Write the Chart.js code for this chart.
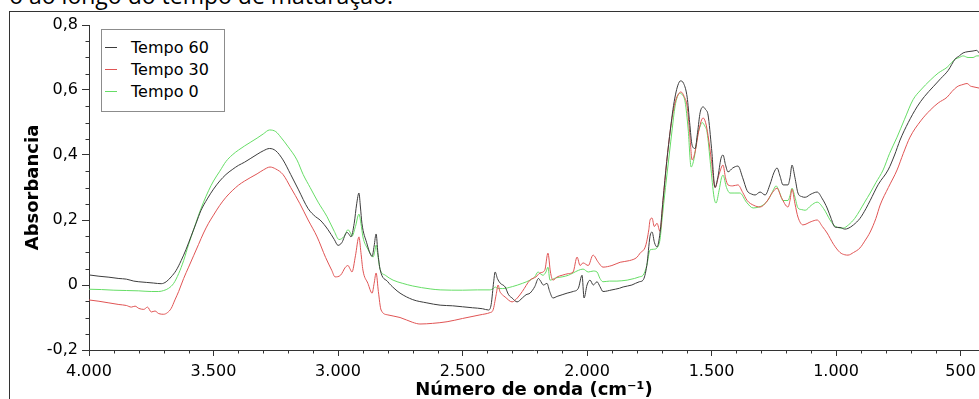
<!DOCTYPE html>
<html lang="pt">
<head>
<meta charset="utf-8">
<title>Espectros FTIR - tempo de maturação</title>
<script src="https://cdn.jsdelivr.net/npm/chart.js@4.4.1/dist/chart.umd.min.js"></script>
<style>
    html, body { margin: 0; padding: 0; background: #fff; }
    body { position: relative; width: 979px; height: 399px; overflow: hidden; font-family: "DejaVu Sans", sans-serif; }
    #caption { position: absolute; right: 586px; top: -16px; font: 23px/22px "Open Sans", sans-serif; white-space: nowrap; color: #000; }
    #frame { position: absolute; left: 9px; top: 11px; width: 1000px; height: 400px; border-left: 1px solid #333; border-top: 1px solid #333; }
    #spectra { position: absolute; left: 0; top: 0; }
    #legend { position: absolute; left: 101px; top: 29px; width: 122px; height: 81px; border: 1px solid #8c8c8c; background: #fff; }
    .item { position: absolute; left: 0; height: 22px; display: flex; align-items: center; font-size: 16px; color: #000; white-space: nowrap; }
    .item i { display: block; width: 12px; height: 1px; margin: 0 14px 0 3px; }
</style>
</head>
<body>
<div id="caption">o ao longo do tempo de maturação.</div>
<div id="frame"></div>
<canvas id="spectra" width="979" height="399"></canvas>
<div id="legend"></div>

<script>
// Data: [wavenumber (cm-1), absorbance]
const tempo60 = [
    [4000, 0.031], [3960, 0.027], [3920, 0.024], [3880, 0.02], [3850, 0.018], [3820, 0.012],
    [3800, 0.01], [3770, 0.008], [3740, 0.006], [3710, 0.004], [3690, 0.01], [3670, 0.025],
    [3650, 0.045], [3630, 0.075], [3610, 0.11], [3590, 0.15], [3570, 0.19], [3550, 0.23],
    [3525, 0.265], [3500, 0.295], [3475, 0.32], [3450, 0.34], [3425, 0.355], [3400, 0.368],
    [3375, 0.378], [3350, 0.39], [3325, 0.402], [3300, 0.413], [3275, 0.42], [3250, 0.413],
    [3221, 0.385], [3190, 0.34], [3160, 0.295], [3120, 0.235], [3090, 0.21], [3072, 0.2],
    [3040, 0.17], [3015, 0.14], [3000, 0.122], [2985, 0.13], [2964, 0.162], [2955, 0.155],
    [2948, 0.148], [2935, 0.19], [2925, 0.25], [2916, 0.283], [2910, 0.24], [2904, 0.19],
    [2885, 0.13], [2870, 0.095], [2863, 0.088], [2855, 0.12], [2847, 0.157], [2840, 0.1],
    [2831, 0.048], [2800, 0.01], [2775, -0.01], [2751, -0.025], [2700, -0.045], [2643, -0.055],
    [2590, -0.062], [2540, -0.064], [2500, -0.067], [2460, -0.07], [2420, -0.073], [2395, -0.077],
    [2385, -0.06], [2375, 0.01], [2369, 0.04], [2360, 0.02], [2349, 0.006], [2329, -0.006],
    [2315, -0.03], [2301, -0.04], [2281, -0.052], [2260, -0.04], [2245, -0.03], [2229, -0.025],
    [2210, -0.005], [2195, 0.02], [2189, 0.015], [2175, 0.0], [2161, 0.005], [2150, -0.02],
    [2137, -0.04], [2120, -0.035], [2100, -0.03], [2080, -0.025], [2056, -0.02], [2035, -0.01],
    [2020, 0.03], [2012, -0.04], [2000, 0.0], [1988, 0.015], [1975, 0.0], [1960, 0.01],
    [1948, -0.005], [1936, -0.02], [1900, -0.015], [1870, -0.01], [1855, -0.006], [1820, 0.0],
    [1790, 0.01], [1775, 0.015], [1760, 0.06], [1747, 0.15], [1739, 0.163], [1729, 0.13],
    [1719, 0.117], [1707, 0.16], [1695, 0.26], [1680, 0.38], [1665, 0.48], [1655, 0.54],
    [1645, 0.585], [1635, 0.615], [1625, 0.628], [1612, 0.62], [1598, 0.578], [1588, 0.5],
    [1578, 0.43], [1566, 0.42], [1556, 0.47], [1546, 0.53], [1534, 0.548], [1524, 0.54],
    [1514, 0.523], [1500, 0.42], [1486, 0.3], [1475, 0.33], [1462, 0.39], [1454, 0.4],
    [1444, 0.37], [1434, 0.348], [1415, 0.36], [1394, 0.366], [1375, 0.33], [1357, 0.29],
    [1340, 0.28], [1325, 0.277], [1305, 0.286], [1285, 0.277], [1265, 0.31], [1250, 0.345],
    [1237, 0.36], [1225, 0.335], [1213, 0.308], [1193, 0.308], [1185, 0.33], [1177, 0.369],
    [1165, 0.33], [1153, 0.283], [1138, 0.272], [1124, 0.27], [1100, 0.28], [1076, 0.286],
    [1055, 0.265], [1036, 0.237], [1020, 0.205], [1004, 0.178], [984, 0.177], [965, 0.172],
    [952, 0.174], [930, 0.185], [904, 0.205], [880, 0.235], [863, 0.26], [830, 0.31],
    [791, 0.354], [765, 0.4], [743, 0.446], [710, 0.5], [675, 0.548], [645, 0.58],
    [610, 0.61], [580, 0.635], [550, 0.66], [522, 0.695], [505, 0.705], [490, 0.714],
    [470, 0.718], [450, 0.72], [435, 0.722], [426, 0.714]
];

const tempo30 = [
    [4000, -0.046], [3960, -0.05], [3920, -0.055], [3880, -0.06], [3850, -0.063], [3830, -0.068],
    [3815, -0.065], [3800, -0.072], [3780, -0.075], [3765, -0.068], [3750, -0.083], [3735, -0.08],
    [3720, -0.088], [3700, -0.09], [3685, -0.085], [3670, -0.072], [3655, -0.046], [3640, -0.02],
    [3620, 0.02], [3600, 0.055], [3580, 0.09], [3560, 0.125], [3540, 0.16], [3520, 0.19],
    [3500, 0.215], [3475, 0.245], [3450, 0.27], [3425, 0.29], [3400, 0.307], [3375, 0.32],
    [3353, 0.33], [3325, 0.342], [3300, 0.354], [3273, 0.363], [3250, 0.357], [3221, 0.34],
    [3190, 0.3], [3153, 0.25], [3120, 0.2], [3084, 0.148], [3050, 0.085], [3025, 0.045],
    [3012, 0.025], [2990, 0.03], [2970, 0.055], [2960, 0.06], [2952, 0.05], [2944, 0.04],
    [2930, 0.09], [2916, 0.148], [2908, 0.1], [2900, 0.046], [2880, 0.005], [2863, -0.025],
    [2855, 0.005], [2847, 0.037], [2838, -0.02], [2827, -0.077], [2800, -0.092], [2751, -0.1],
    [2700, -0.115], [2671, -0.12], [2620, -0.118], [2562, -0.113], [2500, -0.103], [2430, -0.092],
    [2390, -0.085], [2378, -0.078], [2365, -0.03], [2357, 0.0], [2350, -0.02], [2340, -0.03],
    [2329, -0.037], [2301, -0.052], [2280, -0.04], [2260, -0.02], [2229, 0.015], [2205, 0.025],
    [2189, 0.037], [2170, 0.045], [2157, 0.098], [2147, 0.04], [2137, 0.015], [2120, 0.025],
    [2100, 0.03], [2075, 0.035], [2056, 0.04], [2040, 0.086], [2028, 0.06], [2016, 0.068],
    [1995, 0.06], [1976, 0.092], [1955, 0.07], [1936, 0.055], [1900, 0.06], [1867, 0.07],
    [1830, 0.075], [1800, 0.085], [1787, 0.098], [1765, 0.12], [1752, 0.17], [1747, 0.2],
    [1739, 0.206], [1730, 0.18], [1719, 0.19], [1707, 0.165], [1695, 0.26], [1680, 0.38],
    [1665, 0.48], [1647, 0.56], [1635, 0.585], [1623, 0.594], [1610, 0.58], [1598, 0.55],
    [1588, 0.47], [1578, 0.385], [1566, 0.41], [1550, 0.48], [1534, 0.514], [1524, 0.5],
    [1514, 0.46], [1500, 0.38], [1486, 0.3], [1470, 0.34], [1454, 0.369], [1444, 0.33],
    [1434, 0.308], [1415, 0.305], [1394, 0.308], [1375, 0.285], [1357, 0.26], [1330, 0.245],
    [1305, 0.24], [1280, 0.255], [1255, 0.285], [1237, 0.298], [1220, 0.27], [1193, 0.24],
    [1185, 0.26], [1177, 0.295], [1165, 0.25], [1153, 0.209], [1133, 0.185], [1100, 0.195],
    [1076, 0.2], [1055, 0.18], [1036, 0.16], [1010, 0.125], [984, 0.1], [965, 0.093],
    [952, 0.092], [930, 0.1], [904, 0.114], [885, 0.135], [863, 0.163], [840, 0.205],
    [823, 0.246], [790, 0.3], [755, 0.354], [730, 0.405], [703, 0.455], [660, 0.505],
    [622, 0.538], [590, 0.56], [554, 0.578], [535, 0.595], [514, 0.61], [490, 0.617],
    [474, 0.62], [460, 0.612], [450, 0.61], [426, 0.606]
];

const tempo0 = [
    [4000, -0.013], [3950, -0.014], [3900, -0.016], [3850, -0.017], [3800, -0.018], [3750, -0.02],
    [3720, -0.02], [3700, -0.017], [3680, -0.01], [3660, 0.005], [3640, 0.035], [3620, 0.075],
    [3600, 0.125], [3580, 0.17], [3560, 0.215], [3540, 0.255], [3520, 0.29], [3500, 0.32],
    [3475, 0.35], [3450, 0.38], [3425, 0.4], [3400, 0.415], [3375, 0.428], [3350, 0.44],
    [3325, 0.452], [3300, 0.465], [3275, 0.477], [3250, 0.472], [3230, 0.455], [3200, 0.425],
    [3165, 0.385], [3140, 0.34], [3112, 0.3], [3080, 0.255], [3044, 0.21], [3015, 0.165],
    [2996, 0.14], [2975, 0.15], [2960, 0.17], [2950, 0.16], [2944, 0.15], [2930, 0.18],
    [2916, 0.218], [2908, 0.19], [2900, 0.148], [2880, 0.11], [2865, 0.09], [2859, 0.086],
    [2852, 0.105], [2847, 0.123], [2840, 0.09], [2831, 0.048], [2810, 0.03], [2779, 0.015],
    [2740, 0.005], [2700, -0.003], [2630, -0.012], [2590, -0.015], [2500, -0.016], [2440, -0.015],
    [2390, -0.015], [2375, -0.01], [2369, -0.006], [2360, -0.01], [2340, -0.011], [2300, -0.005],
    [2260, 0.005], [2229, 0.015], [2210, 0.025], [2197, 0.04], [2185, 0.033], [2177, 0.03],
    [2165, 0.04], [2157, 0.055], [2149, 0.015], [2125, 0.022], [2100, 0.025], [2075, 0.03],
    [2056, 0.037], [2035, 0.045], [2016, 0.049], [1995, 0.04], [1975, 0.043], [1960, 0.04],
    [1948, 0.02], [1936, 0.01], [1910, 0.012], [1880, 0.012], [1860, 0.013], [1839, 0.015],
    [1810, 0.02], [1790, 0.025], [1775, 0.03], [1760, 0.06], [1747, 0.108], [1733, 0.11],
    [1719, 0.114], [1707, 0.14], [1699, 0.2], [1685, 0.3], [1670, 0.4], [1658, 0.48],
    [1647, 0.548], [1637, 0.58], [1627, 0.59], [1617, 0.585], [1606, 0.563], [1594, 0.48],
    [1582, 0.363], [1570, 0.39], [1556, 0.46], [1545, 0.49], [1538, 0.5], [1528, 0.49],
    [1518, 0.47], [1504, 0.37], [1490, 0.27], [1482, 0.252], [1470, 0.29], [1460, 0.33],
    [1454, 0.338], [1440, 0.3], [1426, 0.283], [1406, 0.283], [1386, 0.283], [1360, 0.255],
    [1333, 0.237], [1310, 0.24], [1293, 0.246], [1270, 0.265], [1250, 0.295], [1241, 0.305],
    [1227, 0.285], [1213, 0.26], [1193, 0.26], [1185, 0.275], [1177, 0.298], [1165, 0.27],
    [1153, 0.237], [1138, 0.232], [1124, 0.23], [1100, 0.245], [1076, 0.255], [1050, 0.235],
    [1024, 0.2], [1010, 0.185], [996, 0.178], [980, 0.175], [972, 0.175], [950, 0.185],
    [925, 0.205], [904, 0.23], [885, 0.255], [863, 0.283], [840, 0.315], [811, 0.354],
    [785, 0.405], [755, 0.455], [725, 0.51], [691, 0.57], [660, 0.6], [622, 0.63],
    [590, 0.652], [554, 0.67], [535, 0.685], [522, 0.695], [505, 0.7], [490, 0.705],
    [470, 0.7], [450, 0.7], [435, 0.705], [426, 0.705]
];

const seriesNames = ['Tempo 60', 'Tempo 30', 'Tempo 0'];
const xTickValues = [4000, 3500, 3000, 2500, 2000, 1500, 1000, 500];
const yTickValues = [-0.2, 0, 0.2, 0.4, 0.6, 0.8];

// Styles
const lineColors = ['#3c3c3c', '#e05454', '#66dd66'];
const axisColor = '#333';
const tickFont = { family: 'DejaVu Sans', size: 16 };
const titleFont = { family: 'DejaVu Sans', size: 18, weight: 'bold', lineHeight: 1.2 };

function formatWave(v) {
    if (v < 1000) return String(v);
    return Math.floor(v / 1000) + '.' + String(v % 1000).padStart(3, '0');
}

function formatAbs(v) {
    if (Math.abs(v) < 1e-9) return '0';
    return v.toFixed(1).replace('.', ',');
}

// small ticks between the labelled ones (every 100 cm-1 and every 0,05)
const minorTicks = {
    id: 'minorTicks',
    afterDraw(chart) {
        const { ctx, chartArea, scales: { x, y } } = chart;
        ctx.save();
        ctx.strokeStyle = axisColor;
        ctx.lineWidth = 1;
        ctx.beginPath();
        for (let w = 400; w <= 4000; w += 100) {
            if (w % 500 === 0) continue;
            const px = Math.round(x.getPixelForValue(w)) + 0.5;
            if (px > chartArea.right) continue;
            ctx.moveTo(px, chartArea.bottom);
            ctx.lineTo(px, chartArea.bottom + 3.5);
        }
        for (let k = -4; k <= 16; k++) {
            if (k % 4 === 0) continue;
            const py = Math.round(y.getPixelForValue(k * 0.05)) + 0.5;
            ctx.moveTo(chartArea.left - 3.5, py);
            ctx.lineTo(chartArea.left, py);
        }
        ctx.stroke();
        ctx.restore();
    }
};

const datasets = [tempo60, tempo30, tempo0].map((series, i) => ({
    label: seriesNames[i],
    data: series.map(([w, a]) => ({ x: w, y: a })),
    borderColor: lineColors[i],
    backgroundColor: lineColors[i],
    borderWidth: 1,
    pointRadius: 0,
    fill: false
}));

const chart = new Chart(document.getElementById('spectra'), {
    type: 'line',
    data: { datasets },
    options: {
        responsive: false,
        animation: false,
        layout: { padding: { top: 25, left: 0, right: 0, bottom: 0 } },
        plugins: { legend: { display: false }, tooltip: { enabled: false } },
        elements: { line: { tension: 0.3, cubicInterpolationMode: 'monotone' } },
        scales: {
            x: {
                type: 'linear',
                reverse: true,
                min: 426,
                max: 4000,
                afterBuildTicks: s => { s.ticks = xTickValues.map(v => ({ value: v })); },
                afterFit: s => { s.height = 49; s.paddingLeft = 0; s.paddingRight = 0; },
                ticks: { autoSkip: false, maxRotation: 0, padding: 6, color: '#000', font: tickFont, callback: formatWave },
                grid: { drawOnChartArea: false, tickLength: 6, color: axisColor },
                border: { color: axisColor },
                title: { display: true, text: 'Número de onda (cm⁻¹)', color: '#000', font: { ...titleFont, lineHeight: 1 }, padding: 0 }
            },
            y: {
                min: -0.2,
                max: 0.8,
                afterBuildTicks: s => { s.ticks = yTickValues.map(v => ({ value: v })); },
                afterFit: s => { s.width = 89; s.paddingTop = 0; s.paddingBottom = 0; },
                ticks: { padding: 4, color: '#000', font: tickFont, callback: formatAbs },
                grid: { drawOnChartArea: false, tickLength: 7, color: axisColor },
                border: { color: axisColor },
                title: { display: true, text: 'Absorbancia', color: '#000', font: titleFont, padding: { top: 23, bottom: 0 } }
            }
        }
    },
    plugins: [minorTicks]
});

// Legend box inside the plot
const legendEl = document.getElementById('legend');
chart.data.datasets.forEach((ds, i) => {
    const row = document.createElement('div');
    row.className = 'item';
    row.style.top = (6 + i * 22) + 'px';
    row.innerHTML = `<i style="background:${ds.borderColor}"></i>${ds.label}`;
    legendEl.appendChild(row);
});
</script>
</body>
</html>
